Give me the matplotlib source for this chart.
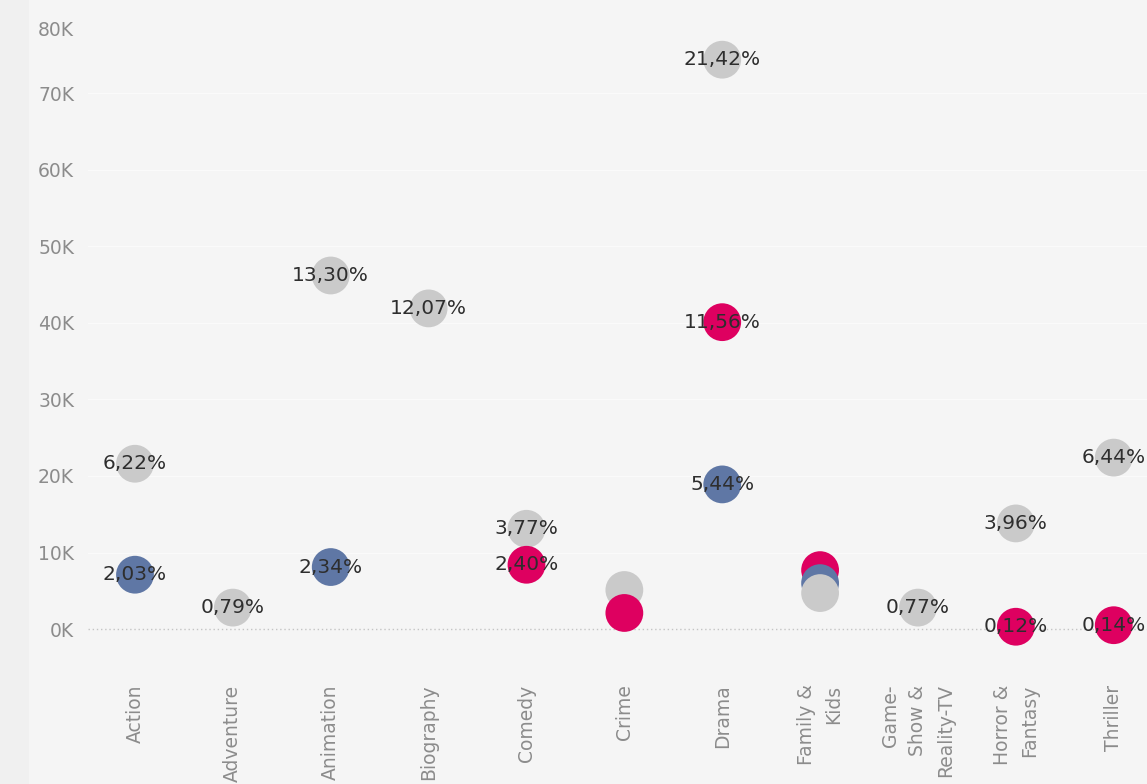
import numpy as np
import matplotlib
matplotlib.use("Agg")
import matplotlib.pyplot as plt
import matplotlib.transforms as mtransforms
from matplotlib.patches import Rectangle

# genre categories (x axis)
categories = ['Action', 'Adventure', 'Animation', 'Biography', 'Comedy', 'Crime',
              'Drama', 'Family &\nKids', 'Game-\nShow &\nReality-TV',
              'Horror &\nFantasy', 'Thriller']

# values in thousands, None = no mark
grey_vals = [21.6, 2.8, 46.2, 41.9, 13.1, 5.1, 74.4, 4.7, 2.8, 13.8, 22.4]
grey_labels = ['6,22%', '0,79%', '13,30%', '12,07%', '3,77%', None, '21,42%',
               None, '0,77%', '3,96%', '6,44%']

blue_vals = [7.1, None, 8.1, None, None, None, 18.9, 6.0, None, None, None]
blue_labels = ['2,03%', None, '2,34%', None, None, None, '5,44%', None, None,
               None, None]

pink_vals = [None, None, None, None, 8.4, 2.1, 40.1, 7.7, None, 0.3, 0.5]
pink_labels = [None, None, None, None, '2,40%', None, '11,56%', None, None,
               '0,12%', '0,14%']

yticks = [0, 10, 20, 30, 40, 50, 60, 70, 80]
ytick_labels = ['0K', '10K', '20K', '30K', '40K', '50K', '60K', '70K', '80K']

GREY = '#cacaca'
BLUE = '#5f77a5'
PINK = '#de0060'
BG = '#f5f5f5'

fig = plt.figure(figsize=(11.47, 7.84), dpi=100, facecolor=BG)
fig.patches.append(Rectangle((0, 0), 29 / 1147, 1, transform=fig.transFigure,
                             facecolor='#f0f0f0', edgecolor='none', zorder=0))
ax = fig.add_axes([88 / 1147, 119 / 784, 1 - 88 / 1147, 665 / 784])
ax.set_facecolor(BG)

series = [(grey_vals, grey_labels, GREY), (blue_vals, blue_labels, BLUE),
          (pink_vals, pink_labels, PINK)]

for vals, labels, color in series:
    for i, v in enumerate(vals):
        if v is None:
            continue
        # smaller values sit on top of larger ones
        z = 5 + (100 - v) / 100
        ax.scatter(i, v, s=740, color=color, edgecolors='none', zorder=z)
        if labels[i]:
            ax.text(i, v, labels[i], ha='center', va='center', fontsize=14.5,
                    color='#2e2e2e', zorder=10)

ax.set_xlim(-0.48, 10.34)
ax.set_ylim(-4.7, 82.2)

ax.set_yticks(yticks)
ax.set_yticklabels(ytick_labels)
ax.set_xticks(np.arange(len(categories)))
ax.set_xticklabels(categories, rotation=90, multialignment='right',
                   linespacing=1.55)
ax.tick_params(axis='both', length=0, labelsize=13.5, labelcolor='#8c8c8c')
ax.tick_params(axis='y', pad=10)
ax.tick_params(axis='x', pad=14)

# tableau pushes the top label inside
top = ax.get_yticklabels()[-1]
top.set_transform(top.get_transform() +
                  mtransforms.ScaledTranslation(0, -12 / 100, fig.dpi_scale_trans))

for y in yticks[1:-1]:
    ax.axhline(y, color='#fafafa', lw=1, zorder=1)
ax.axhline(0, color='#c4c4c4', lw=1, ls=(0, (1, 2)), zorder=1)

for s in ax.spines.values():
    s.set_visible(False)

fig.savefig('out.png', dpi=100, facecolor=BG)
